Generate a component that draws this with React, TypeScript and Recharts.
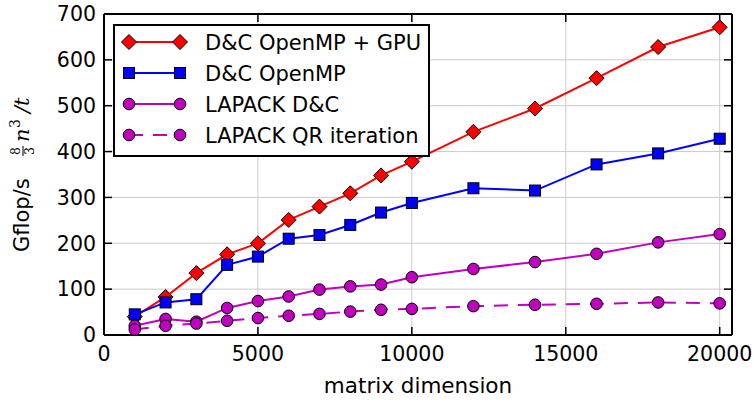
import React from 'react';
import { LineChart, Line, XAxis, YAxis, CartesianGrid, Legend } from 'recharts';

const sizes = [1000, 2000, 3000, 4000, 5000, 6000, 7000, 8000, 9000, 10000, 12000, 14000, 16000, 18000, 20000];
const gpuValues = [40, 83, 135, 176, 200, 251, 280, 309, 348, 378, 443, 494, 560, 628, 671];
const openmpValues = [45, 71, 78, 153, 171, 210, 218, 240, 267, 288, 320, 315, 372, 396, 428];
const lapackDCValues = [20, 35, 29, 59, 74, 84, 99, 106, 110, 126, 144, 159, 177, 202, 220];
const lapackQRValues = [12, 20, 25, 31, 37, 42, 46, 51, 55, 57, 63, 66, 68, 71, 69];

const xTicks = [0, 5000, 10000, 15000, 20000];
const yTicks = [0, 100, 200, 300, 400, 500, 600, 700];
const seriesNames = ['D&C OpenMP + GPU', 'D&C OpenMP', 'LAPACK D&C', 'LAPACK QR iteration'];
const xLabel = 'matrix dimension';

const RED = '#ff0000';
const BLUE = '#0000ff';
const MAG = '#bf00bf';
const FONT = '"DejaVu Sans", sans-serif';

const data = sizes.map((n, i) => ({
  n,
  gpu: gpuValues[i],
  omp: openmpValues[i],
  dc: lapackDCValues[i],
  qr: lapackQRValues[i],
}));

const Diamond = ({ cx, cy }: any) => (
  <polygon
    points={`${cx},${cy - 7.5} ${cx + 7.5},${cy} ${cx},${cy + 7.5} ${cx - 7.5},${cy}`}
    fill={RED}
    stroke="#000"
    strokeWidth={1}
  />
);
const Square = ({ cx, cy }: any) => (
  <rect x={cx - 5.5} y={cy - 5.5} width={11} height={11} fill={BLUE} stroke="#000" strokeWidth={1} />
);
const Circle = ({ cx, cy }: any) => <circle cx={cx} cy={cy} r={5.8} fill={MAG} stroke="#000" strokeWidth={1} />;

const legendRows = [
  { name: seriesNames[0], color: RED, dash: undefined as string | undefined, Marker: Diamond },
  { name: seriesNames[1], color: BLUE, dash: undefined, Marker: Square },
  { name: seriesNames[2], color: MAG, dash: undefined, Marker: Circle },
  { name: seriesNames[3], color: MAG, dash: '14 10', Marker: Circle },
];

const LegendBox = () => (
  <svg width={317} height={133} style={{ display: 'block' }}>
    <rect x={1} y={1} width={315} height={131} fill="#fff" stroke="#000" strokeWidth={2} />
    {legendRows.map((r, i) => {
      const y = 18 + i * 31;
      const M = r.Marker;
      return (
        <g key={r.name}>
          <line x1={16} x2={67} y1={y} y2={y} stroke={r.color} strokeWidth={2} strokeDasharray={r.dash} />
          <M cx={16} cy={y} />
          <M cx={67} cy={y} />
          <text x={92} y={y + 7.5} fontFamily={FONT} fontSize={21} fill="#000">
            {r.name}
          </text>
        </g>
      );
    })}
  </svg>
);

const YLabel = () => (
  <g transform="translate(29,174) rotate(-90)" fill="#000">
    <text x={-78} y={0} fontFamily={FONT} fontSize={21}>Gflop/s</text>
    <text x={23} y={-9} fontFamily="DejaVu Serif, serif" fontSize={12.5} textAnchor="middle">8</text>
    <line x1={18} x2={28} y1={-6} y2={-6} stroke="#000" strokeWidth={1} />
    <text x={23} y={5} fontFamily="DejaVu Serif, serif" fontSize={12.5} textAnchor="middle">3</text>
    <text x={32} y={0} fontFamily="DejaVu Serif, serif" fontStyle="italic" fontSize={21}>n</text>
    <text x={46} y={-9} fontFamily="DejaVu Serif, serif" fontSize={14}>3</text>
    <text x={61} y={0} fontFamily="DejaVu Serif, serif" fontStyle="italic" fontSize={21}>/t</text>
  </g>
);

const XLabel = () => (
  <text x={418} y={393} textAnchor="middle" fontFamily={FONT} fontSize={21.5} fill="#000">
    {xLabel}
  </text>
);

const tickStyle = { fill: '#000', fontFamily: FONT, fontSize: 20.5 };
const noTick = () => <g />;

export default function App() {
  return (
    <div style={{ position: 'absolute', left: 0, top: 0, width: 754, height: 403, background: '#fff' }}>
      <LineChart width={754} height={403} data={data} margin={{ top: 0, right: 0, bottom: 0, left: 0 }}>
        <CartesianGrid stroke="#cbcbcb" strokeWidth={1} verticalValues={xTicks} horizontalValues={yTicks} />
        <XAxis
          dataKey="n"
          type="number"
          domain={[0, 20400]}
          ticks={xTicks}
          height={68}
          tickSize={-8}
          tickMargin={19}
          tick={tickStyle}
          axisLine={{ stroke: '#000', strokeWidth: 2 }}
          tickLine={{ stroke: '#000', strokeWidth: 1.5 }}
          allowDataOverflow
          label={<XLabel />}
        />
        <XAxis
          xAxisId="top"
          orientation="top"
          dataKey="n"
          type="number"
          domain={[0, 20400]}
          ticks={xTicks}
          height={14}
          tickSize={-8}
          tick={noTick}
          axisLine={{ stroke: '#000', strokeWidth: 2 }}
          tickLine={{ stroke: '#000', strokeWidth: 1.5 }}
          allowDataOverflow
        />
        <YAxis
          type="number"
          domain={[0, 700]}
          ticks={yTicks}
          width={104}
          tickSize={-8}
          tickMargin={16}
          tick={tickStyle}
          axisLine={{ stroke: '#000', strokeWidth: 2 }}
          tickLine={{ stroke: '#000', strokeWidth: 1.5 }}
          allowDataOverflow
          label={<YLabel />}
        />
        <YAxis
          yAxisId="right"
          orientation="right"
          type="number"
          domain={[0, 700]}
          ticks={yTicks}
          width={22}
          tickSize={-8}
          tick={noTick}
          axisLine={{ stroke: '#000', strokeWidth: 2 }}
          tickLine={{ stroke: '#000', strokeWidth: 1.5 }}
          allowDataOverflow
        />
        <Line dataKey="gpu" name={seriesNames[0]} stroke={RED} strokeWidth={2} dot={(p: any) => <Diamond key={p.index} {...p} />} isAnimationActive={false} />
        <Line dataKey="omp" name={seriesNames[1]} stroke={BLUE} strokeWidth={2} dot={(p: any) => <Square key={p.index} {...p} />} isAnimationActive={false} />
        <Line dataKey="dc" name={seriesNames[2]} stroke={MAG} strokeWidth={2} dot={(p: any) => <Circle key={p.index} {...p} />} isAnimationActive={false} />
        <Line dataKey="qr" name={seriesNames[3]} stroke={MAG} strokeWidth={2} strokeDasharray="14 10" dot={(p: any) => <Circle key={p.index} {...p} />} isAnimationActive={false} />
        <Legend
          layout="horizontal"
          verticalAlign="middle"
          align="center"
          wrapperStyle={{ position: 'absolute', left: 113, top: 24, width: 317, height: 133 }}
          content={() => <LegendBox />}
        />
      </LineChart>
    </div>
  );
}
